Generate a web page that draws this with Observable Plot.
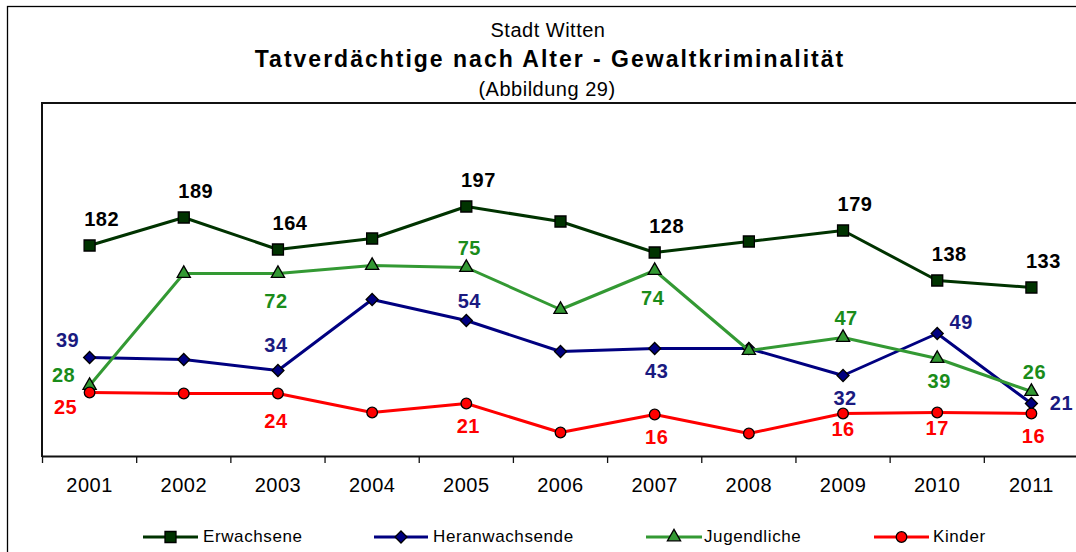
<!DOCTYPE html>
<html><head><meta charset="utf-8">
<script src="https://cdn.jsdelivr.net/npm/d3@7"></script>
<script src="https://cdn.jsdelivr.net/npm/@observablehq/plot@0.6"></script>
<style>
body{margin:0;background:#fff;}
#wrap{position:relative;width:1076px;height:552px;overflow:hidden;font-family:"Liberation Sans",Arial,sans-serif;background:#fff;}
#wrap svg{position:absolute;left:0;top:0;overflow:visible;}
#wrap svg text{letter-spacing:0.5px;}
</style></head><body><div id="wrap"></div>
<script>
// ---- data ----
const years = [2001,2002,2003,2004,2005,2006,2007,2008,2009,2010,2011];
const seriesNames = ["Erwachsene","Heranwachsende","Jugendliche","Kinder"];
// plotted levels of the points (hidden value axis)
const erwachsene     = [211,239,207,218,250,235,204,215,226,176,169];
const heranwachsende = [ 99, 97, 86,157,136,105,108,108, 81,123, 53];
const jugendliche    = [ 71,183,183,191,189,147,186,106,119, 98, 65];
const kinder         = [ 64, 63, 63, 44, 53, 24, 42, 23, 43, 44, 43];
// printed data labels
const erwachseneLabels     = [182,189,164,null,197,null,128,null,179,138,133];
const heranwachsendeLabels = [39,null,34,null,54,null,43,null,32,49,21];
const jugendlicheLabels    = [28,null,72,null,75,null,74,null,47,39,26];
const kinderLabels         = [25,null,24,null,21,null,16,null,16,17,16];
// label placement codes
const erwachsenePlace     = ["ne","ne","ne",null,"ne",null,"ne",null,"ne","ne","ne"];
const heranwachsendePlace = ["nw",null,"n2",null,"n",null,"s",null,"s","ne2","e"];
const jugendlichePlace    = ["w",null,"s3",null,"n",null,"s3",null,"n","s","n"];
const kinderPlace         = ["sw",null,"s3",null,"s",null,"s",null,"s2","s2","s"];

// ---- styles ----
const placeOffsets = {ne:[12,-26], ne2:[24,-11], e:[30,0], nw:[-22,-17], w:[-26,-10], sw:[-24,15],
  n:[3,-19], n2:[-2,-25], s:[2,23], s2:[0,16], s3:[-2,28]};
const styles = {
  Erwachsene:     {line:"#003300", fill:"#003300", label:"#000000", symbol:"square",   r:6.2},
  Heranwachsende: {line:"#000080", fill:"#000080", label:"#1a1a80", symbol:"diamond2", r:5.4},
  Jugendliche:    {line:"#339933", fill:"#339933", label:"#1a8c1a", symbol:"triangle", r:4.9},
  Kinder:         {line:"#ff0000", fill:"#ff0000", label:"#ff0000", symbol:"circle",   r:5.3}
};
const valueSets = [erwachsene, heranwachsende, jugendliche, kinder];
const labelSets = [erwachseneLabels, heranwachsendeLabels, jugendlicheLabels, kinderLabels];
const placeSets = [erwachsenePlace, heranwachsendePlace, jugendlichePlace, kinderPlace];

const marks = [];
marks.push(Plot.ruleY([0], {stroke:"#111", strokeWidth:2}));
marks.push(Plot.ruleX(years.map(y => y - 0.5).concat([years[years.length-1] + 0.5]),
  {y1: 0, y2: -7, stroke:"#111", strokeWidth:1.3}));

seriesNames.forEach((name, si) => {
  const st = styles[name];
  const rows = years.map((yr, i) => ({series:name, year:yr, value:valueSets[si][i], label:labelSets[si][i], place:placeSets[si][i]}));
  marks.push(Plot.line(rows, {x:"year", y:"value", stroke:st.line, strokeWidth:3}));
  marks.push(Plot.dot(rows, {x:"year", y:"value", symbol:st.symbol, r:st.r, fill:st.fill, stroke:"#000", strokeWidth:1.3}));
  Object.entries(placeOffsets).forEach(([code, [dx, dy]]) => {
    const sub = rows.filter(d => d.label != null && d.place === code);
    if (sub.length) marks.push(Plot.text(sub, {x:"year", y:"value", text: d => String(d.label),
      dx, dy, fill: st.label, fontSize: 20, fontWeight: "bold"}));
  });
});

const chart = Plot.plot({
  width: 1076, height: 552,
  marginTop: 103, marginBottom: 96, marginLeft: 42, marginRight: -2,
  style: {fontFamily: '"Liberation Sans", Arial, sans-serif', fontSize: "20px", color: "#000", background: "transparent"},
  x: {domain: [2000.5, 2011.5], ticks: years, tickFormat: d => String(d), tickSize: 0, tickPadding: 21, label: null},
  y: {domain: [0, 353], axis: null},
  marks
});
document.getElementById("wrap").appendChild(chart);

// ---- frames, titles, legend ----
const ov = d3.select("#wrap").append("svg").attr("width",1076).attr("height",552);
ov.append("rect").attr("x",7.5).attr("y",6.5).attr("width",2000).attr("height",2000)
  .attr("fill","none").attr("stroke","#000").attr("stroke-width",1.3);
ov.append("line").attr("x1",42).attr("x2",42).attr("y1",102).attr("y2",457).attr("stroke","#111").attr("stroke-width",2);
ov.append("line").attr("x1",41).attr("x2",1080).attr("y1",103).attr("y2",103).attr("stroke","#111").attr("stroke-width",2);

const ff = '"Liberation Sans", Arial, sans-serif';
ov.append("text").attr("x",548).attr("y",37).attr("text-anchor","middle").attr("font-family",ff)
  .attr("font-size",20).text("Stadt Witten");
ov.append("text").attr("x",550).attr("y",67).attr("text-anchor","middle").attr("font-family",ff)
  .attr("font-size",23).attr("font-weight","bold").style("letter-spacing","2px")
  .text("Tatverdächtige nach Alter - Gewaltkriminalität");
ov.append("text").attr("x",547).attr("y",96).attr("text-anchor","middle").attr("font-family",ff)
  .attr("font-size",20).text("(Abbildung 29)");

const legendPos = [{x1:143,x2:198,tx:203},{x1:374,x2:428,tx:433},{x1:646,x2:702,tx:704},{x1:874,x2:929,tx:933}];
const d3sym = {square:d3.symbolSquare, diamond2:d3.symbolDiamond2, triangle:d3.symbolTriangle, circle:d3.symbolCircle};
seriesNames.forEach((name, i) => {
  const st = styles[name], p = legendPos[i], cy = 537;
  ov.append("line").attr("x1",p.x1).attr("x2",p.x2).attr("y1",cy).attr("y2",cy)
    .attr("stroke",st.line).attr("stroke-width",3);
  ov.append("path").attr("transform",`translate(${(p.x1+p.x2)/2},${cy})`)
    .attr("d", d3.symbol(d3sym[st.symbol], Math.PI*st.r*st.r)())
    .attr("fill",st.fill).attr("stroke","#000").attr("stroke-width",1.3);
  ov.append("text").attr("x",p.tx).attr("y",542).attr("font-family",ff).attr("font-size",17)
    .style("letter-spacing","0.6px").text(name);
});
</script></body></html>
